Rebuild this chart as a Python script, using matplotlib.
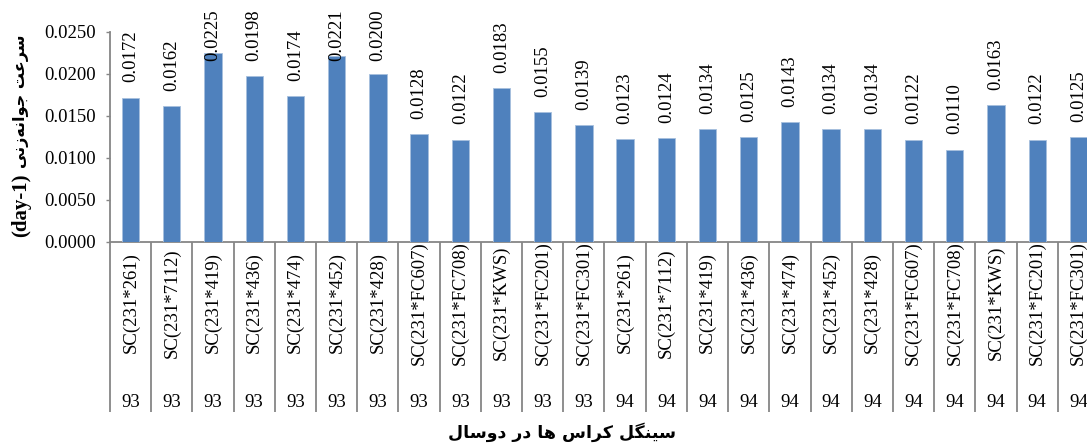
import matplotlib
matplotlib.use("Agg")
import matplotlib.pyplot as plt
import numpy as np

# --- data ---
crosses = ["SC(231*261)", "SC(231*7112)", "SC(231*419)", "SC(231*436)",
           "SC(231*474)", "SC(231*452)", "SC(231*428)", "SC(231*FC607)",
           "SC(231*FC708)", "SC(231*KWS)", "SC(231*FC201)", "SC(231*FC301)"]
labels = crosses + crosses
years = ["93"] * 12 + ["94"] * 12
values_93 = [0.0172, 0.0162, 0.0225, 0.0198, 0.0174, 0.0221, 0.0200,
             0.0128, 0.0122, 0.0183, 0.0155, 0.0139]
values_94 = [0.0123, 0.0124, 0.0134, 0.0125, 0.0143, 0.0134, 0.0134,
             0.0122, 0.0110, 0.0163, 0.0122, 0.0125]
values = values_93 + values_94

ylabel_fa = "سرعت جوانه\u200cزنی"
xlabel_fa = "سینگل کراس ها در دوسال"

# minimal persian shaping (matplotlib has no complex text layout)
# iso, fin, ini, med
FORMS = {
    "ا": ("\uFE8D", "\uFE8E", None, None),
    "ت": ("\uFE95", "\uFE96", "\uFE97", "\uFE98"),
    "ج": ("\uFE9D", "\uFE9E", "\uFE9F", "\uFEA0"),
    "د": ("\uFEA9", "\uFEAA", None, None),
    "ر": ("\uFEAD", "\uFEAE", None, None),
    "ز": ("\uFEAF", "\uFEB0", None, None),
    "س": ("\uFEB1", "\uFEB2", "\uFEB3", "\uFEB4"),
    "ع": ("\uFEC9", "\uFECA", "\uFECB", "\uFECC"),
    "ل": ("\uFEDD", "\uFEDE", "\uFEDF", "\uFEE0"),
    "ن": ("\uFEE5", "\uFEE6", "\uFEE7", "\uFEE8"),
    "ه": ("\uFEE9", "\uFEEA", "\uFEEB", "\uFEEC"),
    "و": ("\uFEED", "\uFEEE", None, None),
    "ک": ("\uFB8E", "\uFB8F", "\uFB90", "\uFB91"),
    "گ": ("\uFB92", "\uFB93", "\uFB94", "\uFB95"),
    "ی": ("\uFBFC", "\uFBFD", "\uFBFE", "\uFBFF"),
}


def shape(text):
    out = []
    for i, c in enumerate(text):
        if c not in FORMS:
            if c != "\u200c":
                out.append(c)
            continue
        prev = text[i - 1] if i > 0 else None
        nxt = text[i + 1] if i + 1 < len(text) else None
        join_prev = prev in FORMS and FORMS[prev][2] is not None
        join_next = FORMS[c][2] is not None and nxt in FORMS
        iso, fin, ini, med = FORMS[c]
        if join_prev and join_next:
            out.append(med)
        elif join_prev:
            out.append(fin)
        elif join_next:
            out.append(ini)
        else:
            out.append(iso)
    return "".join(out)[::-1]


plt.rcParams["font.family"] = ["Liberation Serif", "DejaVu Sans"]
plt.rcParams["font.size"] = 13.5

GRAY = "#868686"
YMAX = 0.025

fig = plt.figure(figsize=(10.87, 4.43), dpi=100)
ax = fig.add_axes([110 / 1087, 201 / 443, 989 / 1087, 210 / 443])

x = np.arange(len(values))
ax.bar(x, values, width=0.42, color="#4F81BD", edgecolor="#A7C0DE", linewidth=0.6, zorder=3)

# value labels sit above the bars, but (like excel) are pushed down
# so they never run far past the top of the figure
gap = 0.0018
cap = YMAX - 0.00345
for xi, v in zip(x, values):
    ax.text(xi, min(v + gap, cap), f"{v:.4f}", rotation=90,
            ha="center", va="bottom", zorder=4, clip_on=False)

ax.set_xlim(-0.5, len(values) - 0.5)
ax.set_ylim(0, YMAX)
ax.set_yticks(np.arange(0, YMAX + 0.0001, 0.005))
ax.yaxis.set_major_formatter("{x:.4f}")
ax.set_xticks([])
ax.tick_params(axis="y", direction="out", length=3, width=1, color=GRAY, pad=7)

for s in ["top", "right"]:
    ax.spines[s].set_visible(False)
for s in ["left", "bottom"]:
    ax.spines[s].set_color(GRAY)
    ax.spines[s].set_linewidth(1.3)

# two-level category axis
trans = ax.get_xaxis_transform()
ax.vlines(np.arange(len(values) + 1) - 0.5, -0.81, 0, transform=trans,
          color=GRAY, linewidth=1.3, clip_on=False)
for xi, lab, yr in zip(x, labels, years):
    ax.text(xi, -0.29, lab, transform=trans, rotation=90, ha="center", va="center")
    ax.text(xi, -0.765, yr, transform=trans, ha="center", va="center")

# y label: latin unit part and persian part
fig.text(21 / 1087, 1 - 237 / 443, "(day-1)", rotation=90, ha="center", va="bottom",
         fontweight="bold", fontsize=15)
fig.text(21 / 1087, 1 - 168 / 443, shape(ylabel_fa), rotation=90, ha="center", va="bottom",
         fontweight="bold", fontsize=11.5, family="DejaVu Sans")
fig.text(562 / 1087, 1 - 432 / 443, shape(xlabel_fa), ha="center", va="center",
         fontweight="bold", fontsize=12.5, family="DejaVu Sans")

fig.savefig("out.png", dpi=100)
